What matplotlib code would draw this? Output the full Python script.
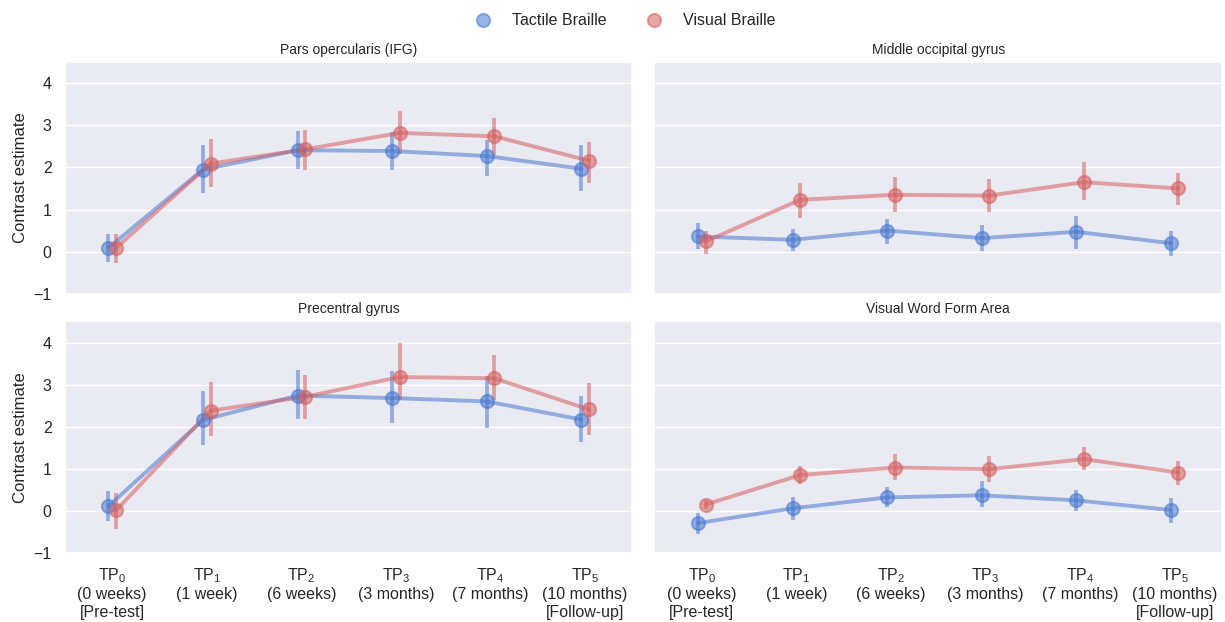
import matplotlib
matplotlib.use("Agg")
import matplotlib.pyplot as plt
import seaborn as sns
import numpy as np

sns.set_theme(style="darkgrid")
plt.rcParams['font.family'] = ['Liberation Sans', 'DejaVu Sans']
plt.rcParams['mathtext.default'] = 'regular'

tick_labels = [
    "TP$_0$\n(0 weeks)\n[Pre-test]",
    "TP$_1$\n(1 week)",
    "TP$_2$\n(6 weeks)",
    "TP$_3$\n(3 months)",
    "TP$_4$\n(7 months)",
    "TP$_5$\n(10 months)\n[Follow-up]",
]
regions = ["Pars opercularis (IFG)", "Middle occipital gyrus",
           "Precentral gyrus", "Visual Word Form Area"]
groups = ["Tactile Braille", "Visual Braille"]
colors = ["#4878d0", "#d65f5f"]

# means, lower CI, upper CI per region per group
ifg_tactile = [0.09, 1.95, 2.41, 2.39, 2.27, 1.97]
ifg_tactile_lo = [-0.24, 1.39, 1.96, 1.94, 1.80, 1.43]
ifg_tactile_hi = [0.43, 2.53, 2.87, 2.84, 2.65, 2.53]
ifg_visual = [0.09, 2.09, 2.43, 2.82, 2.74, 2.16]
ifg_visual_lo = [-0.27, 1.54, 1.95, 2.31, 2.29, 1.64]
ifg_visual_hi = [0.43, 2.67, 2.90, 3.33, 3.18, 2.61]

mog_tactile = [0.36, 0.28, 0.50, 0.32, 0.47, 0.20]
mog_tactile_lo = [0.06, 0.01, 0.17, 0.01, 0.07, -0.11]
mog_tactile_hi = [0.69, 0.54, 0.78, 0.63, 0.85, 0.50]
mog_visual = [0.24, 1.23, 1.35, 1.33, 1.65, 1.50]
mog_visual_lo = [-0.06, 0.81, 0.95, 0.94, 1.23, 1.11]
mog_visual_hi = [0.50, 1.64, 1.78, 1.73, 2.13, 1.87]

pcg_tactile = [0.11, 2.16, 2.74, 2.68, 2.60, 2.17]
pcg_tactile_lo = [-0.23, 1.57, 2.19, 2.08, 1.98, 1.63]
pcg_tactile_hi = [0.47, 2.85, 3.34, 3.33, 3.20, 2.74]
pcg_visual = [0.01, 2.38, 2.71, 3.18, 3.15, 2.41]
pcg_visual_lo = [-0.42, 1.79, 2.18, 2.63, 2.63, 1.80]
pcg_visual_hi = [0.42, 3.05, 3.24, 3.98, 3.71, 3.04]

vwfa_tactile = [-0.29, 0.06, 0.32, 0.37, 0.25, 0.02]
vwfa_tactile_lo = [-0.55, -0.21, 0.09, 0.09, -0.01, -0.29]
vwfa_tactile_hi = [-0.06, 0.32, 0.56, 0.70, 0.50, 0.30]
vwfa_visual = [0.15, 0.85, 1.03, 0.99, 1.23, 0.91]
vwfa_visual_lo = [0.04, 0.63, 0.74, 0.68, 0.97, 0.62]
vwfa_visual_hi = [0.26, 1.07, 1.34, 1.31, 1.51, 1.19]

data = [
    [(ifg_tactile, ifg_tactile_lo, ifg_tactile_hi), (ifg_visual, ifg_visual_lo, ifg_visual_hi)],
    [(mog_tactile, mog_tactile_lo, mog_tactile_hi), (mog_visual, mog_visual_lo, mog_visual_hi)],
    [(pcg_tactile, pcg_tactile_lo, pcg_tactile_hi), (pcg_visual, pcg_visual_lo, pcg_visual_hi)],
    [(vwfa_tactile, vwfa_tactile_lo, vwfa_tactile_hi), (vwfa_visual, vwfa_visual_lo, vwfa_visual_hi)],
]

fig, axes = plt.subplots(2, 2, figsize=(12.25, 6.22), dpi=100, sharex=True, sharey=True)
fig.subplots_adjust(left=0.053, right=0.9975, top=0.9, bottom=0.111, wspace=0.039, hspace=0.12)

x = np.arange(len(tick_labels))
offsets = [-0.04, 0.04]
alpha = 0.55
for ax, title, reg in zip(axes.flat, regions, data):
    for (m, lo, hi), col, off, lab in zip(reg, colors, offsets, groups):
        m = np.array(m); lo = np.array(lo); hi = np.array(hi)
        xs = x + off
        ax.vlines(xs, lo, hi, color=col, lw=2.7, alpha=alpha, zorder=2)
        ax.plot(xs, m, color=col, lw=2.8, alpha=alpha, zorder=3)
        ax.plot(xs, m, 'o', color=col, ms=9.5, mew=1.5, mfc=col, mec=col, alpha=alpha,
                zorder=4, label=lab)
    ax.set_title(title, fontsize=10)
    ax.set_xlim(-0.5, 5.5)
    ax.set_ylim(-1, 4.5)
    ax.set_yticks([-1, 0, 1, 2, 3, 4])
    ax.set_xticks(x)
    ax.set_xticklabels(tick_labels, fontsize=11.5)
    ax.tick_params(axis='y', labelsize=11.5)
    ax.grid(axis='x', visible=False)
    ax.set_xlabel("")

for ax in axes[:, 0]:
    ax.set_ylabel("Contrast estimate", fontsize=12)

handles, labels = axes[0, 0].get_legend_handles_labels()
fig.legend(handles, labels, loc='upper center', ncol=2, frameon=False,
           bbox_to_anchor=(0.507, 1.002), fontsize=11.5, columnspacing=2.0,
           handletextpad=0.8)

fig.savefig("out.png", dpi=100)
